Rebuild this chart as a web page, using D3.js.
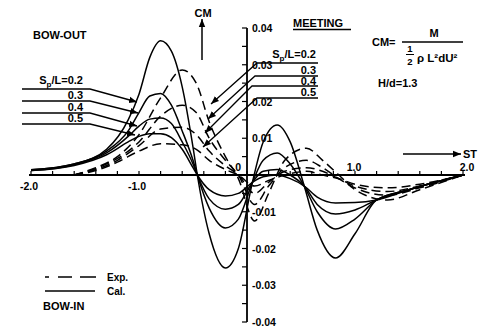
<!DOCTYPE html>
<html>
<head>
<meta charset="utf-8">
<script src="https://cdn.jsdelivr.net/npm/d3@7"></script>
<style>
  body { margin: 0; background: #fff; }
  svg { display: block; font-family: "Liberation Sans", Arial, sans-serif; }
  text { fill: #000; }
</style>
</head>
<body>
<svg width="479" height="331"></svg>
<script>
// calculated curves (solid), one array per Sp/L
const calcSt = [-2.0, -1.6, -1.3, -1.1, -1.0, -0.9, -0.8, -0.7, -0.6, -0.5, -0.46, -0.35, -0.2, -0.08, 0.05, 0.15, 0.28, 0.4, 0.53, 0.65, 0.82, 1.0, 1.2, 1.5, 2.0];
const calc02 = [0.0014, 0.003, 0.007, 0.015, 0.022, 0.032, 0.0365, 0.0337, 0.024, 0.0076, 0.0, -0.016, -0.0253, -0.020, -0.002, 0.009, 0.0136, 0.009, -0.003, -0.015, -0.0226, -0.016, -0.0068, -0.004, 0.0];
const calc03 = [0.0014, 0.003, 0.0065, 0.012, 0.017, 0.0215, 0.0222, 0.019, 0.012, 0.004, 0.0, -0.009, -0.0144, -0.012, -0.002, 0.004, 0.006, 0.003, -0.003, -0.010, -0.0147, -0.012, -0.0068, -0.004, 0.0];
const calc04 = [0.0012, 0.0028, 0.006, 0.0105, 0.0133, 0.0152, 0.0155, 0.014, 0.009, 0.003, 0.0, -0.0065, -0.0093, -0.008, -0.002, 0.001, 0.0015, 0.0, -0.003, -0.008, -0.0106, -0.0095, -0.0068, -0.004, 0.0];
const calc05 = [0.0012, 0.0026, 0.0055, 0.009, 0.0105, 0.0112, 0.0112, 0.0102, 0.007, 0.002, 0.0, -0.004, -0.0057, -0.005, -0.002, -0.0005, 0.0, -0.001, -0.003, -0.006, -0.0076, -0.0075, -0.0068, -0.004, 0.0];

// experiment (dashed)
const expSt = [-1.6, -1.4, -1.2, -1.0, -0.8, -0.6, -0.47, -0.35, -0.2, -0.08, 0.07, 0.2, 0.35, 0.55, 0.7, 0.85, 1.0, 1.3, 1.6, 2.0];
const exp02 = [0.0, 0.002, 0.005, 0.011, 0.021, 0.0286, 0.025, 0.0145, 0.005, -0.001, -0.0125, -0.005, 0.004, 0.0073, 0.004, 0.0, -0.004, -0.0068, -0.004, 0.0];
const exp03 = [0.0, 0.0018, 0.0045, 0.009, 0.016, 0.019, 0.017, 0.01, 0.004, 0.0, -0.008, -0.003, 0.002, 0.004, 0.002, -0.001, -0.0035, -0.0055, -0.0035, 0.0];
const exp04 = [0.0, 0.0015, 0.004, 0.008, 0.0125, 0.013, 0.011, 0.0065, 0.0025, 0.0, -0.005, -0.002, 0.001, 0.002, 0.001, -0.001, -0.003, -0.0045, -0.003, 0.0];
const exp05 = [0.0, 0.0012, 0.0035, 0.0065, 0.0085, 0.0082, 0.007, 0.004, 0.0015, 0.0, -0.003, -0.0015, 0.0, 0.001, 0.0, -0.001, -0.0025, -0.0035, -0.0025, 0.0];

const spLabels = ["0.2", "0.3", "0.4", "0.5"];
const xTicks = d3.range(-2.0, 2.01, 0.2);
const xLabels = [-2.0, -1.0, 0, 1.0, 2.0];
const yTicks = d3.range(-0.04, 0.0401, 0.005);
const yLabels = [0.04, 0.03, 0.02, 0.01, -0.01, -0.02, -0.03, -0.04];

const svg = d3.select("svg");
const x = d3.scaleLinear().domain([-2, 2]).range([31, 463]);
const y = d3.scaleLinear().domain([-0.04, 0.04]).range([322, 28]);

svg.append("defs").append("marker")
  .attr("id", "arr")
  .attr("viewBox", "0 0 10 10")
  .attr("refX", 10).attr("refY", 5)
  .attr("markerWidth", 8).attr("markerHeight", 8)
  .attr("markerUnits", "userSpaceOnUse")
  .attr("orient", "auto")
  .append("path").attr("d", "M0,1L10,5L0,9Z").attr("fill", "#000");

// axes
const ax = svg.append("g").attr("stroke", "#000");
ax.append("line").attr("x1", x(-2) - 2).attr("x2", x(2) + 2)
  .attr("y1", y(0)).attr("y2", y(0)).attr("stroke-width", 1.8);
ax.selectAll(".xt").data(xTicks).enter().append("line")
  .attr("x1", (d) => x(d)).attr("x2", (d) => x(d))
  .attr("y1", y(0)).attr("y2", y(0) - 4).attr("stroke-width", 1.2);
ax.append("line").attr("x1", x(0)).attr("x2", x(0))
  .attr("y1", y(0.04)).attr("y2", y(-0.04)).attr("stroke-width", 1.8);
ax.selectAll(".yt").data(yTicks).enter().append("line")
  .attr("x1", x(0)).attr("x2", x(0) - 5)
  .attr("y1", (d) => y(d)).attr("y2", (d) => y(d)).attr("stroke-width", 1.2);

const lab = svg.append("g").attr("font-size", 10.5).attr("font-weight", "bold");
lab.selectAll(".xl").data(xLabels).enter().append("text")
  .attr("x", (d) => d < 0 ? x(d) + 7 : d === 0 ? x(d) - 6 : x(d) + (d === 2 ? 4 : -1))
  .attr("y", (d) => d < 0 ? y(0) + 15 : y(0) - 4)
  .attr("text-anchor", (d) => d < 0 || d === 0 ? "end" : "middle")
  .text((d) => d === 0 ? "0" : d3.format(".1f")(d).replace("−", "-"));
lab.selectAll(".yl").data(yLabels).enter().append("text")
  .attr("x", x(0) + 5)
  .attr("y", (d) => y(d) + 4)
  .text((d) => d3.format(".2f")(d).replace("−", "-"));

// curves
const line = (xs) => d3.line()
  .x((d, i) => x(xs[i]))
  .y((d) => y(d))
  .curve(d3.curveMonotoneX);

const curves = svg.append("g").attr("fill", "none").attr("stroke", "#000").attr("stroke-width", 1.5);
curves.selectAll(".calc").data([calc02, calc03, calc04, calc05]).enter().append("path")
  .attr("d", line(calcSt));
curves.selectAll(".exp").data([exp02, exp03, exp04, exp05]).enter().append("path")
  .attr("d", line(expSt))
  .attr("stroke-dasharray", "9,5");

// Sp/L leaders, left and right
const leftLines = [
  [[22, 89], [90, 89], [137, 102]],
  [[22, 101], [90, 101], [138, 113]],
  [[22, 113], [90, 113], [137, 126]],
  [[22, 124], [90, 124], [135, 135]]
];
const rightLines = [
  [[318, 63], [257, 63], [211, 104]],
  [[318, 76], [255, 76], [208, 119]],
  [[318, 86], [252, 86], [205, 133]],
  [[318, 98], [257, 98], [203, 147]]
];
const ann = svg.append("g").attr("fill", "none").attr("stroke", "#000").attr("stroke-width", 1.3);
ann.selectAll(".ll").data(leftLines.concat(rightLines)).enter().append("polyline")
  .attr("points", (d) => d.join(" "))
  .attr("marker-end", "url(#arr)");

const spText = (g, xx, yy, anchor, i) => {
  const t = g.append("text").attr("x", xx).attr("y", yy).attr("text-anchor", anchor);
  if (i === 0) {
    t.append("tspan").text("S");
    t.append("tspan").attr("font-size", 8).attr("dy", 3).text("p");
    t.append("tspan").attr("dy", -3).text("/L=" + spLabels[0]);
  } else {
    t.text(spLabels[i]);
  }
};
const txt = svg.append("g").attr("font-size", 11).attr("font-weight", "bold");
[84, 99, 111, 122].forEach((yy, i) => spText(txt, 83, yy, "end", i));
[58, 74, 85, 96].forEach((yy, i) => spText(txt, 316, yy, "end", i));

// titles and notes
txt.append("text").attr("x", 33).attr("y", 39).text("BOW-OUT");
txt.append("text").attr("x", 293).attr("y", 27).text("MEETING");
svg.append("line").attr("x1", 293).attr("x2", 351).attr("y1", 29.5).attr("y2", 29.5)
  .attr("stroke", "#000").attr("stroke-width", 1.3);
txt.append("text").attr("x", 372).attr("y", 46).text("CM=");
txt.append("text").attr("x", 434).attr("y", 37).attr("text-anchor", "middle").text("M");
svg.append("line").attr("x1", 402).attr("x2", 463).attr("y1", 42).attr("y2", 42)
  .attr("stroke", "#000").attr("stroke-width", 1.3);
const small = svg.append("g").attr("font-size", 9.5).attr("font-weight", "bold");
small.append("text").attr("x", 410).attr("y", 52).attr("text-anchor", "middle").text("1");
svg.append("line").attr("x1", 406).attr("x2", 414).attr("y1", 54.5).attr("y2", 54.5)
  .attr("stroke", "#000").attr("stroke-width", 1);
small.append("text").attr("x", 410).attr("y", 65).attr("text-anchor", "middle").text("2");
txt.append("text").attr("x", 417).attr("y", 62).attr("font-size", 11.5).text("ρ L²dU²");
txt.append("text").attr("x", 378).attr("y", 87).text("H/d=1.3");

// CM and ST arrows
svg.append("line").attr("x1", 202).attr("x2", 202).attr("y1", 60).attr("y2", 19)
  .attr("stroke", "#000").attr("stroke-width", 1.5).attr("marker-end", "url(#arr)");
txt.append("text").attr("x", 203).attr("y", 17).attr("text-anchor", "middle").text("CM");
svg.append("line").attr("x1", 403).attr("x2", 461).attr("y1", 154).attr("y2", 154)
  .attr("stroke", "#000").attr("stroke-width", 1.5).attr("marker-end", "url(#arr)");
txt.append("text").attr("x", 463).attr("y", 158).text("ST");

// legend
svg.append("line").attr("x1", 45).attr("x2", 97).attr("y1", 277).attr("y2", 277)
  .attr("stroke", "#000").attr("stroke-width", 1.5).attr("stroke-dasharray", "4,9,14,8,16");
svg.append("line").attr("x1", 45).attr("x2", 95).attr("y1", 291).attr("y2", 291)
  .attr("stroke", "#000").attr("stroke-width", 1.5);
const lg = svg.append("g").attr("font-size", 10).attr("font-weight", "bold");
lg.append("text").attr("x", 107).attr("y", 281).text("Exp.");
lg.append("text").attr("x", 107).attr("y", 295).text("Cal.");
txt.append("text").attr("x", 43).attr("y", 310).text("BOW-IN");
</script>
</body>
</html>
